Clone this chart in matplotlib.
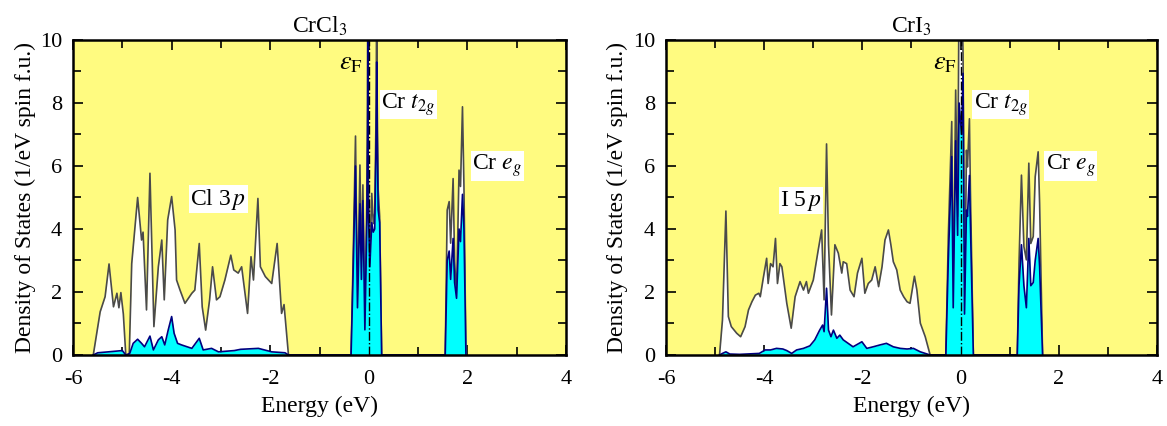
import numpy as np
import matplotlib
matplotlib.use('Agg')
import matplotlib.pyplot as plt
from matplotlib.ticker import MultipleLocator

plt.rcParams['font.family'] = ['Liberation Serif', 'DejaVu Serif']
plt.rcParams['mathtext.fontset'] = 'stix'
plt.rcParams['axes.unicode_minus'] = False

# ---- CrCl3: total DOS (energy in eV, states/eV spin f.u.) ----
cl_val_e = [-5.59, -5.45, -5.35, -5.27, -5.18, -5.11, -5.07, -5.03, -4.98, -4.93, -4.86, -4.81,
            -4.69, -4.61, -4.58, -4.51, -4.44, -4.36, -4.27, -4.20, -4.15, -4.08, -4.00, -3.93,
            -3.90, -3.83, -3.73, -3.59, -3.53, -3.44, -3.38, -3.31, -3.23, -3.17, -3.09, -3.02,
            -2.92, -2.80, -2.74, -2.65, -2.58, -2.46, -2.39, -2.34, -2.25, -2.20, -2.10, -1.97,
            -1.86, -1.77, -1.72, -1.63]
cl_val_tot = [0, 1.37, 1.85, 2.89, 1.53, 1.96, 1.5, 1.98, 1.3, 0, 0, 2.9,
              5.0, 3.65, 3.9, 1.43, 5.77, 0.9, 2.8, 3.65, 1.75, 4.29, 5.03, 3.97,
              2.38, 2.06, 1.64, 1.96, 2.06, 3.54, 1.53, 0.79, 1.75, 2.8, 1.75, 1.85,
              2.38, 3.17, 2.7, 2.6, 2.8, 1.32, 3.12, 2.38, 4.97, 2.8, 2.49, 2.27,
              3.54, 1.32, 1.6, 0]
cl_t2g_e = [-0.36, -0.32, -0.27, -0.23, -0.18, -0.15, -0.12, -0.08, -0.04, -0.025, -0.02, -0.015,
            0.02, 0.06, 0.09, 0.12, 0.15, 0.16, 0.17, 0.19, 0.22, 0.26]
cl_t2g_tot = [0, 2.9, 6.95, 1.53, 6.03, 2.8, 5.4, 0.79, 5.0, 8.0, 12, 6.0,
              2.9, 5.13, 4.17, 4.5, 8.0, 12, 8.0, 5.24, 4.4, 0]
cl_t2g_cr = [0, 2.5, 6.0, 1.5, 4.8, 2.4, 4.9, 0.8, 4.2, 7.0, 11, 5.0,
             2.8, 4.2, 3.9, 4.0, 7.0, 9.3, 7.0, 4.6, 4.2, 0]
cl_eg_e = [1.55, 1.59, 1.63, 1.66, 1.71, 1.74, 1.78, 1.83, 1.86, 1.90, 1.93, 1.97]
cl_eg_tot = [0, 4.6, 4.87, 3.55, 5.6, 3.0, 1.85, 5.87, 5.35, 7.88, 5.35, 0]
cl_eg_cr = [0, 3.0, 3.3, 2.4, 3.7, 2.3, 1.8, 4.0, 3.6, 5.1, 4.0, 0]
# CrCl3: Cr d in valence band
cl_val_cr_e = [-5.59, -5.5, -5.28, -5.0, -4.93, -4.85, -4.78, -4.69, -4.61, -4.55, -4.44, -4.37,
               -4.27, -4.20, -4.14, -4.07, -4.00, -3.95, -3.88, -3.80, -3.59, -3.44, -3.36, -3.19,
               -3.05, -2.73, -2.60, -2.24, -1.97, -1.70, -1.63]
cl_val_cr = [0, 0.07, 0.1, 0.14, 0, 0.05, 0.37, 0.5, 0.37, 0.26, 0.6, 0.16,
             0.48, 0.58, 0.32, 0.79, 1.22, 0.69, 0.37, 0.32, 0.21, 0.53, 0.16, 0.21,
             0.1, 0.14, 0.18, 0.21, 0.1, 0.07, 0]

# ---- CrI3 ----
i_val_e = [-4.91, -4.85, -4.78, -4.73, -4.67, -4.56, -4.48, -4.39, -4.32, -4.25, -4.18, -4.11,
           -4.08, -4.02, -3.95, -3.92, -3.87, -3.82, -3.77, -3.73, -3.68, -3.64, -3.54, -3.45,
           -3.37, -3.27, -3.20, -3.14, -3.10, -3.00, -2.90, -2.83, -2.78, -2.73, -2.69, -2.63,
           -2.56, -2.49, -2.42, -2.39, -2.32, -2.25, -2.17, -2.10, -2.01, -1.95, -1.88, -1.81,
           -1.74, -1.67, -1.60, -1.54, -1.47, -1.42, -1.37, -1.30, -1.23, -1.16, -1.09, -1.03,
           -0.94, -0.89, -0.82, -0.72, -0.62]
i_val_tot = [0, 1.11, 4.57, 1.22, 0.9, 0.69, 0.58, 0.9, 1.43, 1.69, 1.9, 1.96,
             1.85, 2.43, 3.07, 2.27, 2.9, 2.8, 3.7, 2.27, 2.9, 2.8, 1.64, 0.85,
             1.85, 2.33, 2.06, 2.33, 1.96, 2.38, 3.33, 3.97, 1.75, 6.7, 3.5, 1.27,
             3.5, 3.23, 2.6, 2.96, 2.9, 2.06, 1.85, 2.6, 3.07, 1.96, 2.27, 2.38,
             2.8, 2.17, 2.8, 3.65, 3.97, 3.5, 2.96, 2.7, 2.06, 1.85, 1.69, 1.64,
             2.5, 2.06, 1.01, 0.58, 0]
i_t2g_e = [-0.30, -0.25, -0.18, -0.15, -0.10, -0.06, -0.03, 0.02, 0.05, 0.08, 0.12, 0.14, 0.18, 0.20, 0.26]
i_t2g_tot = [0, 3.76, 7.41, 1.5, 8.41, 4.4, 12, 12, 9.6, 1.3, 6.5, 5.97, 7.5, 5.24, 0]
i_t2g_cr = [0, 3.0, 6.3, 1.5, 6.8, 3.8, 8.0, 7.0, 8.94, 1.3, 4.6, 4.4, 5.7, 4.2, 0]
i_eg_e = [1.155, 1.19, 1.24, 1.29, 1.34, 1.39, 1.43, 1.48, 1.52, 1.58, 1.61, 1.67]
i_eg_tot = [0, 2.91, 5.71, 3.44, 3.02, 6.09, 3.54, 3.76, 5.66, 6.45, 4.8, 0]
i_eg_cr = [0, 2.2, 3.5, 2.2, 1.5, 3.7, 2.2, 2.3, 3.0, 3.7, 2.8, 0]
i_val_cr_e = [-4.91, -4.85, -4.78, -4.70, -4.50, -4.10, -3.98, -3.87, -3.75, -3.62, -3.54, -3.44,
              -3.34, -3.20, -3.07, -2.97, -2.87, -2.81, -2.78, -2.73, -2.69, -2.64, -2.59, -2.52,
              -2.46, -2.39, -2.29, -2.19, -2.01, -1.91, -1.78, -1.64, -1.51, -1.37, -1.23, -1.09,
              -0.96, -0.82, -0.62]
i_val_cr = [0, 0.05, 0.1, 0.03, 0.02, 0.05, 0.16, 0.16, 0.21, 0.19, 0.14, 0.05,
            0.16, 0.21, 0.29, 0.48, 0.79, 0.95, 0.74, 2.12, 0.79, 0.58, 0.79, 0.53,
            0.63, 0.48, 0.37, 0.26, 0.42, 0.21, 0.26, 0.32, 0.37, 0.26, 0.21, 0.19,
            0.21, 0.1, 0]

titles = ['CrCl$_3$', 'CrI$_3$']
ligand_labels = ['Cl 3$\\,p$', 'I 5$\\,p$']


def join(*parts):
    return np.concatenate([np.asarray(p, dtype=float) for p in parts])


panels = [
    (join(cl_val_e, cl_t2g_e, cl_eg_e), join(cl_val_tot, cl_t2g_tot, cl_eg_tot),
     join(cl_val_cr_e, cl_t2g_e, cl_eg_e), join(cl_val_cr, cl_t2g_cr, cl_eg_cr)),
    (join(i_val_e, i_t2g_e, i_eg_e), join(i_val_tot, i_t2g_tot, i_eg_tot),
     join(i_val_cr_e, i_t2g_e, i_eg_e), join(i_val_cr, i_t2g_cr, i_eg_cr)),
]

# label anchor positions (data coords)
lig_pos = [(-3.05, 4.95), (-3.25, 4.9)]
t2g_pos = [(0.25, 7.95), (0.27, 7.95)]
eg_pos = [(2.1, 6.0), (1.73, 6.0)]
ef_pos = [(-0.12, 9.25), (-0.07, 9.25)]

fig = plt.figure(figsize=(11.67, 4.26), dpi=100)
axes = [fig.add_axes([0.0626, 0.1667, 0.4224, 0.7394]),
        fig.add_axes([0.5707, 0.1667, 0.4207, 0.7394])]

box = dict(facecolor='white', edgecolor='none', pad=1.0)

for k, ax in enumerate(axes):
    e_tot, d_tot, e_cr, d_cr = panels[k]
    ax.set_facecolor('#fffb80')
    ax.fill_between(e_tot, 0, d_tot, color='white', lw=0, zorder=1)
    ax.plot(e_tot, d_tot, color='#4a4a4a', lw=1.2, zorder=2)
    ax.fill_between(e_cr, 0, d_cr, color='#00ffff', lw=0, zorder=3)
    ax.plot(e_cr, d_cr, color='#000080', lw=1.2, zorder=4)
    ax.axvline(0, color='black', ls='-.', lw=1.0, zorder=5)

    ax.set_xlim(-6, 4)
    ax.set_ylim(0, 10)
    ax.xaxis.set_major_locator(MultipleLocator(2))
    ax.xaxis.set_minor_locator(MultipleLocator(1))
    ax.yaxis.set_major_locator(MultipleLocator(2))
    ax.yaxis.set_minor_locator(MultipleLocator(1))
    ax.tick_params(which='both', direction='in', top=True, right=True, labelsize=16,
                   width=1.2, pad=8)
    ax.tick_params(axis='x', which='both', pad=11)
    ax.tick_params(which='major', length=7)
    ax.tick_params(which='minor', length=6)
    for s in ax.spines.values():
        s.set_linewidth(1.8)
        s.set_zorder(10)

    ax.set_title(titles[k], fontsize=17, pad=5)
    ax.set_xlabel('Energy (eV)', fontsize=17, labelpad=5)
    ax.set_ylabel('Density of States (1/eV spin f.u.)', fontsize=17, labelpad=3)

    ax.text(*lig_pos[k], ligand_labels[k], fontsize=17, ha='center', va='center', bbox=box, zorder=6)
    ax.text(*t2g_pos[k], 'Cr $t_{2g}$', fontsize=17, ha='left', va='center', bbox=box, zorder=6)
    ax.text(*eg_pos[k], 'Cr $e_g$', fontsize=17, ha='left', va='center', bbox=box, zorder=6)
    ax.text(*ef_pos[k], '$\\varepsilon_{\\mathrm{F}}$', fontsize=19, ha='right', va='center', zorder=6)

fig.savefig('out.png', dpi=100)
